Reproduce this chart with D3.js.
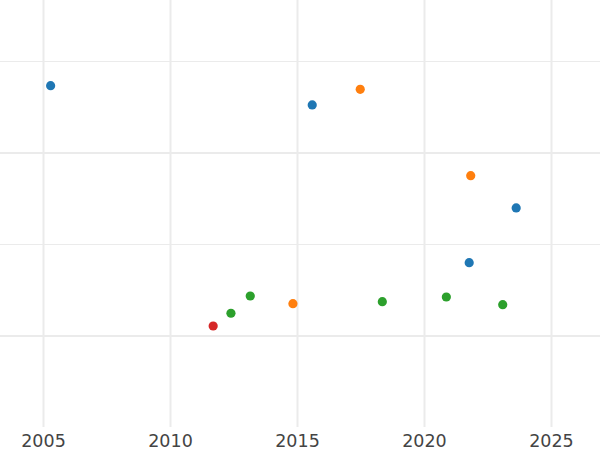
<!DOCTYPE html>
<html>
<head>
<meta charset="utf-8">
<script src="https://cdn.jsdelivr.net/npm/d3@7"></script>
<style>
html,body{margin:0;padding:0;background:#fff;}
svg{display:block;}
</style>
</head>
<body>
<svg id="chart" width="600" height="450"></svg>
<script>
// Data
const years  = [2005.30, 2015.60, 2017.49, 2021.84, 2023.63, 2021.78, 2013.16, 2012.40, 2011.70, 2014.84, 2018.36, 2020.88, 2023.10];
const values = [2.736, 2.525, 2.696, 1.752, 1.399, 0.801, 0.437, 0.248, 0.109, 0.353, 0.375, 0.426, 0.342];
const groups = ["A","A","B","B","A","A","C","C","D","B","C","C","C"];
const groupNames = ["A","B","C","D"];
const groupColors = ["#1f77b4","#ff7f0e","#2ca02c","#d62728"];
const xTicks = [2005, 2010, 2015, 2020, 2025];
const yMajor = [0, 2];
const yMinor = [1, 3];

const W = 600, H = 450;
const plotTop = 0, plotBottom = 427;
const svg = d3.select("#chart");

const x = d3.scaleLinear().domain([2003.307, 2026.93]).range([0, W]);
const y = d3.scaleLinear().domain([-0.995, 3.672]).range([plotBottom, plotTop]);
const color = d3.scaleOrdinal().domain(groupNames).range(groupColors);

const grid = svg.append("g");
grid.selectAll("line.ymin").data(yMinor).join("line")
  .attr("x1", 0).attr("x2", W)
  .attr("y1", d => Math.round(y(d)) + 0.5).attr("y2", d => Math.round(y(d)) + 0.5)
  .attr("stroke", "#ebebeb").attr("stroke-width", 1);
grid.selectAll("line.ymaj").data(yMajor).join("line")
  .attr("x1", 0).attr("x2", W)
  .attr("y1", d => Math.round(y(d))).attr("y2", d => Math.round(y(d)))
  .attr("stroke", "#ebebeb").attr("stroke-width", 2);

// x axis via d3 axis, with gridlines as ticks
const xAxis = d3.axisBottom(x).tickValues(xTicks).tickFormat(d3.format("d"))
  .tickSize(-(plotBottom - plotTop)).tickPadding(6);
const gx = svg.append("g").attr("transform", `translate(0,${plotBottom})`).call(xAxis);
gx.select(".domain").remove();
gx.selectAll(".tick line").attr("stroke", "#ebebeb").attr("stroke-width", 2);
gx.selectAll(".tick text")
  .attr("fill", "#444")
  .attr("font-family", "DejaVu Sans, sans-serif")
  .attr("font-size", 17.5)
  .attr("dy", null)
  .attr("y", 20);

svg.append("g").selectAll("circle")
  .data(years.map((yr, i) => ({yr, v: values[i], g: groups[i]})))
  .join("circle")
  .attr("cx", d => x(d.yr))
  .attr("cy", d => y(d.v))
  .attr("r", 4.6)
  .attr("fill", d => color(d.g));
</script>
</body>
</html>
